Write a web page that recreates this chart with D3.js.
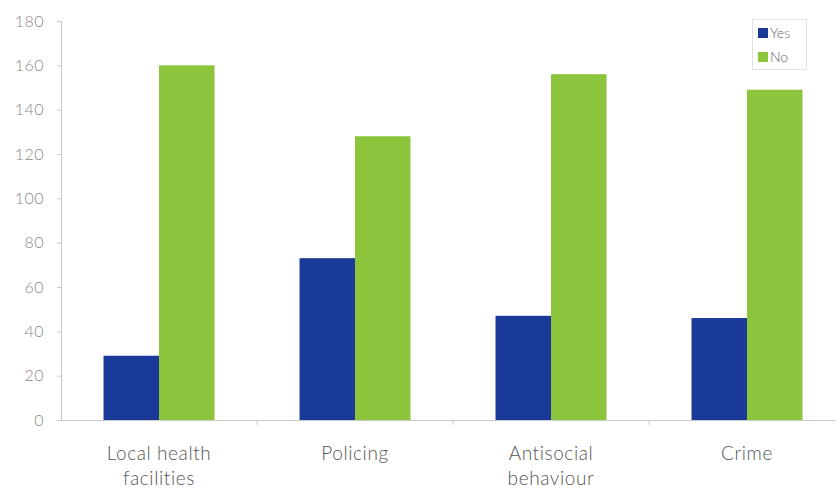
<!DOCTYPE html>
<html><head><meta charset="utf-8">
<script src="https://cdn.jsdelivr.net/npm/d3@7"></script>
<style>
html,body{margin:0;padding:0;background:#fff;}
svg{display:block;font-family:Lato,"Noto Sans","DejaVu Sans",sans-serif;font-weight:300;}
</style></head>
<body><svg id="c" width="836" height="492"></svg>
<script>
(function(){
const categories = [["Local health","facilities"],["Policing"],["Antisocial","behaviour"],["Crime"]];
const seriesNames = ["Yes","No"];
const yesValues = [29, 73, 47, 46];
const noValues = [160, 128, 156, 149];
const yTicks = [0,20,40,60,80,100,120,140,160,180];
const colors = ["#1a3a9a","#8cc43c"];

const svg = d3.select("#c");
const mLeft = 61, mRight = 845, mTop = 21, mBottom = 420;
const keys = categories.map((c,i)=>i);
const x0 = d3.scaleBand().domain(keys).range([mLeft,mRight]).padding(0);
const x1 = d3.scaleBand().domain(seriesNames).range([0,x0.bandwidth()]).paddingInner(0).paddingOuter(0.766);
const y = d3.scaleLinear().domain([0,180]).range([mBottom,mTop]);

const data = keys.map(i=>({i, vals:[yesValues[i], noValues[i]]}));

const g = svg.append("g");
data.forEach(d=>{
  seriesNames.forEach((s,j)=>{
    g.append("rect")
      .attr("x", x0(d.i)+x1(s))
      .attr("y", y(d.vals[j]))
      .attr("width", x1.bandwidth())
      .attr("height", y(0)-y(d.vals[j]))
      .attr("fill", colors[j]);
  });
});

const yAxis = d3.axisLeft(y).tickValues(yTicks).tickSize(4).tickPadding(13);
const ya = svg.append("g").attr("transform",`translate(${mLeft},0)`).call(yAxis);
ya.select(".domain").attr("stroke","#c8c8c8");
ya.selectAll(".tick line").attr("stroke","#c8c8c8");
ya.selectAll("text").attr("fill","#888").style("font-size","16px").style("letter-spacing","0.5px").style("font-family","Lato,'Noto Sans',sans-serif").style("font-weight","300");

svg.append("line").attr("x1",mLeft).attr("x2",836).attr("y1",mBottom+0.5).attr("y2",mBottom+0.5).attr("stroke","#c8c8c8");
keys.slice(1).forEach(i=>{
  svg.append("line").attr("x1",x0(i)).attr("x2",x0(i)).attr("y1",mBottom).attr("y2",mBottom+5).attr("stroke","#c8c8c8");
});

keys.forEach(i=>{
  const t = svg.append("text").attr("text-anchor","middle")
    .attr("fill","#555").style("font-size","19px").style("letter-spacing","0.6px");
  categories[i].forEach((line,k)=>{
    t.append("tspan").attr("x", x0(i)+x0.bandwidth()/2).attr("y", 460 + k*25).text(line);
  });
});

const lg = svg.append("g");
lg.append("rect").attr("x",752.5).attr("y",19.5).attr("width",54).attr("height",50)
  .attr("fill","#fff").attr("stroke","#e0e0e0");
seriesNames.forEach((s,j)=>{
  lg.append("rect").attr("x",758).attr("y",28+j*24).attr("width",10).attr("height",10).attr("fill",colors[j]);
  lg.append("text").attr("x",770).attr("y",38+j*24).attr("fill","#666").style("font-size","14px").text(s);
});
})();
</script>
</body></html>
